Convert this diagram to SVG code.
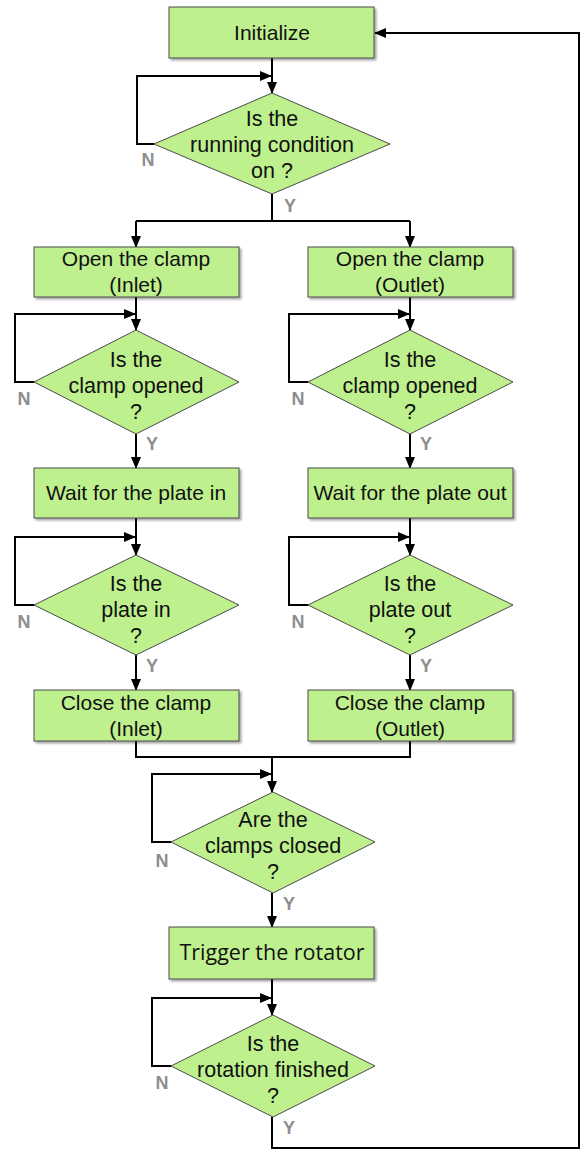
<svg xmlns="http://www.w3.org/2000/svg" width="584" height="1157" viewBox="0 0 584 1157">
<defs>
<marker id="ah" markerWidth="12" markerHeight="10" refX="11" refY="5" orient="auto" markerUnits="userSpaceOnUse">
<path d="M0,0 L12,5 L0,10 Z" fill="#000"/>
</marker>
<filter id="sh" x="-5%" y="-5%" width="115%" height="125%">
<feDropShadow dx="2" dy="2" stdDeviation="1.2" flood-color="#000" flood-opacity="0.35"/>
</filter>
</defs>
<style>
.box{fill:#bff08e;stroke:#4a4a4a;stroke-width:1;filter:url(#sh)}
.dia{fill:#bff08e;stroke:#4a4a4a;stroke-width:1}
.t{font-family:"Liberation Sans",Arial,sans-serif;font-size:21px;fill:#111;text-anchor:middle}
.d{font-size:21.5px}
.t2{font-family:"Open Sans","Noto Sans",sans-serif;font-size:21.5px;fill:#111;text-anchor:middle}
.lbl{font-family:"Liberation Sans",Arial,sans-serif;font-size:18px;font-weight:bold;fill:#8e8e8e;text-anchor:middle}
.c{fill:none;stroke:#000;stroke-width:2}
.a{fill:none;stroke:#000;stroke-width:2;marker-end:url(#ah)}
</style>
<rect width="584" height="1157" fill="#fff"/>

<g id="connectors">
<path class="a" d="M272,58 V93"/>
<path class="a" d="M154,144 H137 V76 H271"/>
<path class="c" d="M272,194 V221 M136,221 H410"/>
<path class="a" d="M136,221 V247"/>
<path class="a" d="M410,221 V247"/>
<path class="a" d="M136,297 V330"/>
<path class="a" d="M410,297 V330"/>
<path class="a" d="M34,382 H15 V314 H135"/>
<path class="a" d="M308,382 H289 V314 H409"/>
<path class="a" d="M136,434 V468"/>
<path class="a" d="M410,434 V468"/>
<path class="a" d="M136,518 V555"/>
<path class="a" d="M410,518 V555"/>
<path class="a" d="M34,605 H15 V537 H135"/>
<path class="a" d="M308,605 H289 V537 H409"/>
<path class="a" d="M136,655 V690"/>
<path class="a" d="M410,655 V690"/>
<path class="c" d="M136,741 V757 H410 V741"/>
<path class="a" d="M272,757 V792"/>
<path class="a" d="M171,842 H152 V774 H271"/>
<path class="a" d="M272,893 V927"/>
<path class="a" d="M272,979 V1015"/>
<path class="a" d="M171,1066 H152 V998 H271"/>
<path class="a" d="M272,1117 V1148 H579 V33 H375"/>
</g>

<g id="initialize">
<rect class="box" x="169" y="7" width="205" height="51"/>
<text class="t" x="272" y="40">Initialize</text>
</g>

<g id="running">
<polygon class="dia" points="272,93 390,144 272,194 154,144"/>
<text class="t d" x="272" y="126">Is the</text>
<text class="t d" x="272" y="152">running condition</text>
<text class="t d" x="272" y="178">on ?</text>
<text class="lbl" x="148" y="166">N</text>
<text class="lbl" x="290" y="212">Y</text>
</g>

<g id="open-inlet">
<rect class="box" x="34" y="247" width="205" height="50"/>
<text class="t" x="136" y="266">Open the clamp</text>
<text class="t" x="136" y="292">(Inlet)</text>
</g>
<g id="open-outlet">
<rect class="box" x="308" y="247" width="205" height="50"/>
<text class="t" x="410" y="266">Open the clamp</text>
<text class="t" x="410" y="292">(Outlet)</text>
</g>

<g id="opened-inlet">
<polygon class="dia" points="136,330 239,382 136,434 34,382"/>
<text class="t d" x="136" y="367">Is the</text>
<text class="t d" x="136" y="393">clamp opened</text>
<text class="t d" x="136" y="419">?</text>
<text class="lbl" x="24" y="405">N</text>
<text class="lbl" x="152" y="450">Y</text>
</g>
<g id="opened-outlet">
<polygon class="dia" points="410,330 513,382 410,434 308,382"/>
<text class="t d" x="410" y="367">Is the</text>
<text class="t d" x="410" y="393">clamp opened</text>
<text class="t d" x="410" y="419">?</text>
<text class="lbl" x="298" y="405">N</text>
<text class="lbl" x="426" y="450">Y</text>
</g>

<g id="wait-in">
<rect class="box" x="34" y="468" width="205" height="50"/>
<text class="t" x="136" y="500">Wait for the plate in</text>
</g>
<g id="wait-out">
<rect class="box" x="308" y="468" width="205" height="50"/>
<text class="t" x="410" y="500">Wait for the plate out</text>
</g>

<g id="plate-in">
<polygon class="dia" points="136,555 239,605 136,655 34,605"/>
<text class="t d" x="136" y="591">Is the</text>
<text class="t d" x="136" y="617">plate in</text>
<text class="t d" x="136" y="643">?</text>
<text class="lbl" x="24" y="628">N</text>
<text class="lbl" x="152" y="672">Y</text>
</g>
<g id="plate-out">
<polygon class="dia" points="410,555 513,605 410,655 308,605"/>
<text class="t d" x="410" y="591">Is the</text>
<text class="t d" x="410" y="617">plate out</text>
<text class="t d" x="410" y="643">?</text>
<text class="lbl" x="298" y="628">N</text>
<text class="lbl" x="426" y="672">Y</text>
</g>

<g id="close-inlet">
<rect class="box" x="34" y="690" width="205" height="51"/>
<text class="t" x="136" y="710">Close the clamp</text>
<text class="t" x="136" y="736">(Inlet)</text>
</g>
<g id="close-outlet">
<rect class="box" x="308" y="690" width="205" height="51"/>
<text class="t" x="410" y="710">Close the clamp</text>
<text class="t" x="410" y="736">(Outlet)</text>
</g>

<g id="clamps-closed">
<polygon class="dia" points="273,792 375,842 273,893 171,842"/>
<text class="t d" x="273" y="827">Are the</text>
<text class="t d" x="273" y="853">clamps closed</text>
<text class="t d" x="273" y="879">?</text>
<text class="lbl" x="162" y="867">N</text>
<text class="lbl" x="289" y="910">Y</text>
</g>

<g id="trigger">
<rect class="box" x="169" y="927" width="205" height="52"/>
<text class="t2" x="272" y="960">Trigger the rotator</text>
</g>

<g id="rotation">
<polygon class="dia" points="273,1015 375,1066 273,1117 171,1066"/>
<text class="t d" x="273" y="1051">Is the</text>
<text class="t d" x="273" y="1077">rotation finished</text>
<text class="t d" x="273" y="1103">?</text>
<text class="lbl" x="162" y="1089">N</text>
<text class="lbl" x="289" y="1134">Y</text>
</g>
</svg>
